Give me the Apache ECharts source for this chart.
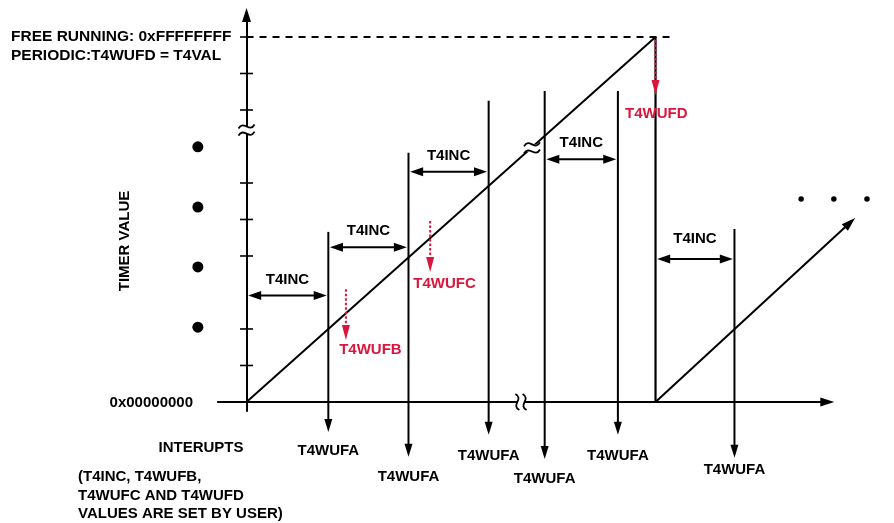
<!DOCTYPE html>
<html><head><meta charset="utf-8">
<script src="https://cdn.jsdelivr.net/npm/echarts@6/dist/echarts.min.js"></script>
<style>html,body{margin:0;padding:0;background:#fff;}#c{width:894px;height:523px;}</style>
</head><body><div id="c"></div>
<script>
// ---------------- data (x: time units, y: timer-value units) ----------------
const timerTicks   = [1, 2, 4, 5, 6, 8, 9, 10];
const maxValue     = 10;          // 0xFFFFFFFF / T4VAL level
const dashedEnd    = 10.45;
const ramp1        = [0, 0, 10, 10];
const ramp2        = [10, 0, 14.88, 5.04];
const rolloverTime = 10;

const wufaTime   = [2.0, 3.96, 5.92, 7.29, 9.08, 11.93];
const wufaTop    = [4.66, 6.83, 8.25, 8.52, 8.52, 4.74];
const wufaTip    = [-0.82, -1.5, -0.9, -1.56, -0.9, -1.53];
const wufaLabelY = [-1.34, -2.05, -1.48, -2.11, -1.48, -1.86];
const wufaName   = 'T4WUFA';

const incStart  = [0, 2.0, 3.96, 7.29, 10];
const incEnd    = [2.0, 3.96, 5.92, 9.08, 11.93];
const incLevel  = [2.92, 4.24, 6.31, 6.65, 3.92];
const incLabelY = [3.34, 4.69, 6.75, 7.09, 4.46];
const incName   = 'T4INC';

const wufNames  = ['T4WUFB', 'T4WUFC', 'T4WUFD'];
const wufTime   = [2.43, 4.49, 10.0];
const wufFrom   = [3.09, 4.96, 9.92];
const wufTo     = [1.70, 3.56, 8.41];
const wufLabelX = [3.03, 4.84, 10.02];
const wufLabelY = [1.42, 3.23, 7.89];

const leftDotsTime   = -1.19;
const leftDots       = [2.05, 3.70, 5.34, 6.99];
const rightDotsLevel = 5.56;
const rightDots      = [13.56, 14.36, 15.17];

const breakX   = [0, 6.98, 6.71];
const breakY   = [7.45, 6.96, 0];
const breakRot = [0, 0, 90];

const yTopText    = ['FREE RUNNING: 0xFFFFFFFF', 'PERIODIC:T4WUFD = T4VAL'];
const yZeroText   = '0x00000000';
const yAxisTitle  = 'TIMER VALUE';
const interTitle  = 'INTERUPTS';
const noteLines   = ['(T4INC, T4WUFB,', 'T4WUFC AND T4WUFD', 'VALUES ARE SET BY USER)'];

// ---------------- styles ----------------
const FONT = 'bold 15px "Liberation Sans", Arial, Helvetica, sans-serif';
const FONT_TOP = 'bold 15.5px "Liberation Sans", Arial, Helvetica, sans-serif';
const RED = '#d9163c';
const BLACK = '#000';
const LW = 2;

function head(tip, from, len, wid, color) {
  const dx = tip[0] - from[0], dy = tip[1] - from[1];
  const d = Math.hypot(dx, dy) || 1, ux = dx / d, uy = dy / d;
  const bx = tip[0] - ux * len, by = tip[1] - uy * len;
  const nx = -uy * wid / 2, ny = ux * wid / 2;
  return {type: 'polygon', shape: {points: [[tip[0], tip[1]], [bx + nx, by + ny], [bx - nx, by - ny]]},
          style: {fill: color}};
}
function shorten(a, b, len) {
  const dx = b[0] - a[0], dy = b[1] - a[1], d = Math.hypot(dx, dy) || 1;
  return [b[0] - dx / d * len, b[1] - dy / d * len];
}

// segs: [x1,y1,x2,y2,(labelX,labelY)]
function segSeries(name, segs, opt) {
  return {
    type: 'custom', name, coordinateSystem: 'cartesian2d', clip: false, silent: true, z: opt.z || 3,
    data: segs,
    renderItem(params, api) {
      let a = api.coord([api.value(0), api.value(1)]);
      let b = api.coord([api.value(2), api.value(3)]);
      const kids = [];
      const hl = opt.headLen || 13, hw = opt.headWid || 9;
      let la = a, lb = b;
      if (opt.headEnd) lb = shorten(a, b, hl - 1);
      if (opt.headStart) la = shorten(b, a, hl - 1);
      kids.push({type: 'line', shape: {x1: la[0], y1: la[1], x2: lb[0], y2: lb[1]},
        style: {stroke: opt.color, lineWidth: opt.width || LW, lineDash: opt.dash || null}});
      if (opt.headEnd) kids.push(head(b, a, hl, hw, opt.color));
      if (opt.headStart) kids.push(head(a, b, hl, hw, opt.color));
      if (opt.labels) {
        const lp = api.coord([api.value(4), api.value(5)]);
        kids.push({type: 'text', style: {text: opt.labels[params.dataIndex], x: lp[0], y: lp[1],
          font: FONT, fill: opt.labelColor || BLACK, align: 'center', verticalAlign: 'middle'}});
      }
      return {type: 'group', children: kids};
    }
  };
}

const wufaSegs = wufaTime.map((t, i) => [t, wufaTop[i], t, wufaTip[i], t, wufaLabelY[i]]);
const incSegs  = incStart.map((s, i) => [s + 0.04, incLevel[i], incEnd[i] - 0.04, incLevel[i],
                                          (s + incEnd[i]) / 2, incLabelY[i]]);
const wufSegs  = wufTime.map((t, i) => [t, wufFrom[i], t, wufTo[i], wufLabelX[i], wufLabelY[i]]);

const chart = echarts.init(document.getElementById('c'), null, {renderer: 'canvas'});
chart.setOption({
  animation: false,
  backgroundColor: '#fff',
  grid: {left: 217.9, right: 66.7, top: 15.1, bottom: 111.9},
  xAxis: {
    type: 'value', min: -0.7, max: 14.2,
    axisLine: {show: true, onZero: true, symbol: ['none', 'triangle'], symbolSize: [9, 14],
               lineStyle: {color: BLACK, width: 2}},
    axisTick: {show: false}, axisLabel: {show: false}, splitLine: {show: false}
  },
  yAxis: {
    type: 'value', min: -0.25, max: 10.6,
    axisLine: {show: true, onZero: true, symbol: ['none', 'triangle'], symbolSize: [9, 14],
               lineStyle: {color: BLACK, width: 2}},
    axisTick: {show: false}, axisLabel: {show: false}, splitLine: {show: false}
  },
  series: [
    // y ticks crossing the axis
    {
      type: 'custom', coordinateSystem: 'cartesian2d', clip: false, silent: true, z: 3,
      data: timerTicks.map(v => [0, v]),
      renderItem(params, api) {
        const p = api.coord([api.value(0), api.value(1)]);
        return {type: 'line', shape: {x1: p[0] - 6.5, y1: p[1], x2: p[0] + 6.5, y2: p[1]},
                style: {stroke: BLACK, lineWidth: 1.6}};
      }
    },
    segSeries('max', [[0, maxValue, dashedEnd, maxValue]], {color: BLACK, width: 2, dash: [7, 6]}),
    segSeries('ramp1', [ramp1], {color: BLACK}),
    segSeries('rollover', [[rolloverTime, maxValue, rolloverTime, 0]], {color: BLACK, width: 2.2}),
    segSeries('ramp2', [ramp2], {color: BLACK, headEnd: true, headLen: 14, headWid: 9}),
    segSeries('wufa', wufaSegs, {color: BLACK, headEnd: true, headLen: 13, headWid: 8,
                                 labels: wufaTime.map(() => wufaName)}),
    segSeries('inc', incSegs, {color: BLACK, headEnd: true, headStart: true, headLen: 13, headWid: 9,
                               labels: incStart.map(() => incName)}),
    segSeries('wuf', wufSegs, {color: RED, width: 2, dash: [2.5, 2], headEnd: true, headLen: 15, headWid: 8,
                               labels: wufNames, labelColor: RED, z: 6}),
    // axis / line breaks
    {
      type: 'custom', coordinateSystem: 'cartesian2d', clip: false, silent: true, z: 5,
      data: breakX.map((x, i) => [x, breakY[i], breakRot[i]]),
      renderItem(params, api) {
        const p = api.coord([api.value(0), api.value(1)]);
        const r = api.value(2) * Math.PI / 180;
        const g = 3.6;
        const wave = (y) => ({type: 'bezierCurve',
          shape: {x1: -8, y1: y + 2, cpx1: -3, cpy1: y - 7, cpx2: 3, cpy2: y + 7, x2: 8, y2: y - 2},
          style: {stroke: BLACK, lineWidth: 1.8, fill: null}});
        return {type: 'group', x: p[0], y: p[1], rotation: r, children: [
          {type: 'rect', shape: {x: -10, y: -g, width: 20, height: 2 * g}, style: {fill: '#fff'}},
          wave(-g), wave(g)
        ]};
      }
    },
    {
      type: 'scatter', silent: true, clip: false, symbol: 'circle', symbolSize: 11, z: 4,
      itemStyle: {color: BLACK, opacity: 1},
      data: leftDots.map(v => [leftDotsTime, v])
    },
    {
      type: 'scatter', silent: true, clip: false, symbol: 'circle', symbolSize: 5.5, z: 4,
      itemStyle: {color: BLACK, opacity: 1},
      data: rightDots.map(t => [t, rightDotsLevel])
    }
  ],
  graphic: [
    {type: 'text', x: 11, y: 37, style: {text: yTopText[0], font: FONT_TOP, fill: BLACK, align: 'left', verticalAlign: 'middle'}},
    {type: 'text', x: 11, y: 55.5, style: {text: yTopText[1], font: FONT_TOP, fill: BLACK, align: 'left', verticalAlign: 'middle'}},
    {type: 'text', x: 193, y: 402.5, style: {text: yZeroText, font: FONT, fill: BLACK, align: 'right', verticalAlign: 'middle'}},
    {type: 'text', x: 125, y: 241, rotation: Math.PI / 2, style: {text: yAxisTitle, font: FONT, fill: BLACK, align: 'center', verticalAlign: 'middle'}},
    {type: 'text', x: 201, y: 448, style: {text: interTitle, font: FONT, fill: BLACK, align: 'center', verticalAlign: 'middle'}},
    {type: 'text', x: 78, y: 477, style: {text: noteLines[0], font: FONT, fill: BLACK, align: 'left', verticalAlign: 'middle'}},
    {type: 'text', x: 78, y: 495.5, style: {text: noteLines[1], font: FONT, fill: BLACK, align: 'left', verticalAlign: 'middle'}},
    {type: 'text', x: 78, y: 514, style: {text: noteLines[2], font: FONT, fill: BLACK, align: 'left', verticalAlign: 'middle'}}
  ]
});
</script></body></html>
